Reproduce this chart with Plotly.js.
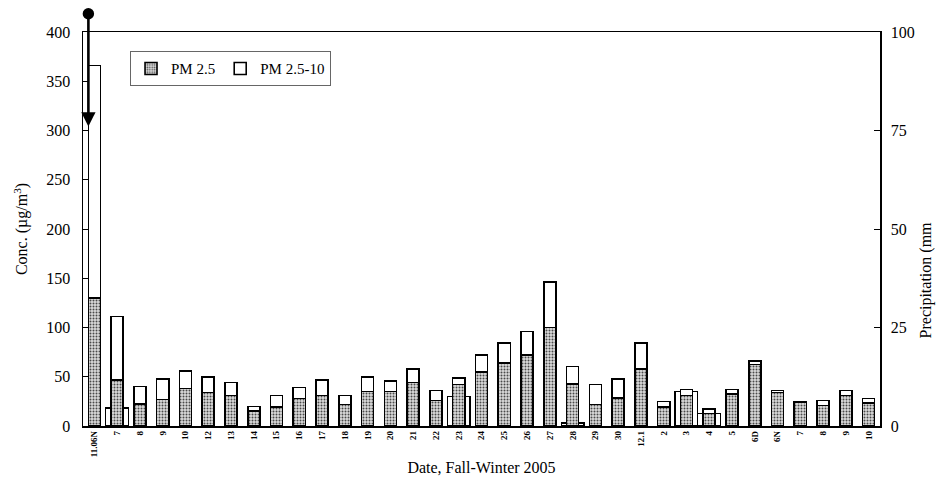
<!DOCTYPE html>
<html>
<head>
<meta charset="utf-8">
<script src="https://cdn.plot.ly/plotly-3.0.1.min.js"></script>
<style>body{margin:0;background:#fff}#chart{width:945px;height:483px}</style>
</head>
<body>
<div id="chart"></div>
<script>
// Sampling dates (unique ids) and the tick labels shown on the axis
const dates = ['11.06N','11.07','11.08','11.09','11.10','11.12','11.13','11.14','11.15','11.16','11.17','11.18','11.19','11.20','11.21','11.22','11.23','11.24','11.25','11.26','11.27','11.28','11.29','11.30','12.01','12.02','12.03','12.04','12.05','12.06D','12.06N','12.07','12.08','12.09','12.10'];
const tickLabels = ['11.06N','7','8','9','10','12','13','14','15','16','17','18','19','20','21','22','23','24','25','26','27','28','29','30','12.1','2','3','4','5','6D','6N','7','8','9','10'];
// PM2.5 concentration (µg/m3)
const pm25 = [130,47,22.5,27,38,34,31,15,19.5,28,31,22,35,35,44,26,42,55,64,72,100,42.5,22,28.5,58,19.5,31,12.5,32.5,62.5,34,24,21,31,23.5];
// Coarse fraction PM2.5-10 (µg/m3)
const pmCoarse = [236,64,17.5,21,18,16,13,5,11.5,11,16,9,14.5,10.5,14,10,6.5,17,20,24,46.5,18,20,19.5,26,5.5,6,4.5,4.5,3.5,2,0.5,5,5,4.5];
// Precipitation (mm)
const precip = [null,4.6,null,null,null,null,null,null,null,null,null,null,null,null,null,null,7.5,null,null,null,null,0.8,null,null,null,null,8.75,3.2,null,null,null,null,null,null,null];
// Off-scale precipitation marker for the first sample (mm)
const offScaleTop = 105, offScaleTip = 76;

const serif = 'Liberation Serif, Times New Roman, serif';

const traces = [
  {type:'bar', x:dates, y:precip, yaxis:'y', width:1.0, showlegend:false, name:'Precipitation',
   marker:{color:'#ffffff', line:{color:'#000', width:1.3}}},
  {type:'bar', x:dates, y:pm25, yaxis:'y2', width:0.53, name:'PM 2.5',
   marker:{color:'#c0c0c0', line:{color:'#000', width:1.6},
     pattern:{shape:'.', bgcolor:'#dcdcdc', fgcolor:'#4a4a4a', size:3, solidity:0.35}}},
  {type:'bar', x:dates, y:pmCoarse, yaxis:'y2', width:0.53, name:'PM 2.5-10',
   marker:{color:'#ffffff', line:{color:'#000', width:1.6}}}
];

const layout = {
  width:945, height:483,
  margin:{l:83, r:65, t:32, b:57},
  paper_bgcolor:'#fff', plot_bgcolor:'#fff',
  barmode:'stack', bargap:0,
  font:{family:serif, color:'#000', size:14},
  showlegend:true,
  legend:{orientation:'h', x:0.059, y:0.951, xanchor:'left', yanchor:'top',
    bordercolor:'#666', borderwidth:1, bgcolor:'#fff',
    font:{family:serif, size:15}, itemwidth:30, traceorder:'normal'},
  xaxis:{type:'category', tickvals:dates, ticktext:tickLabels, tickangle:-90,
    range:[-0.5, dates.length-0.5], showline:true, linecolor:'#000', linewidth:1.5, mirror:true,
    ticks:'', showgrid:false, zeroline:false,
    tickfont:{family:serif, size:9, weight:700},
    title:{text:'Date, Fall-Winter 2005', font:{family:serif, size:16}, standoff:5}},
  yaxis:{side:'right', range:[0,100], tickvals:[0,25,50,75,100], showgrid:false, zeroline:false,
    showline:true, linecolor:'#000', linewidth:1.5, ticks:'inside', ticklen:6, tickcolor:'#000',
    ticklabelstandoff:6, tickfont:{family:serif, size:16}},
  yaxis2:{overlaying:'y', side:'left', range:[0,400], dtick:50, showgrid:false, zeroline:false,
    showline:true, linecolor:'#000', linewidth:1.5, ticks:'inside', ticklen:5, tickcolor:'#000',
    ticklabelstandoff:8, tickfont:{family:serif, size:16},
    title:{text:'Conc. (µg/m<sup>3</sup>)', font:{family:serif, size:16}, standoff:14}},
  annotations:[
    {xref:'x', yref:'y', x:dates[0], y:offScaleTip, axref:'pixel', ayref:'y', ax:0, ay:offScaleTop,
     text:'', showarrow:true, arrowhead:2, arrowsize:1.1, arrowwidth:2.6, arrowcolor:'#000',
     arrowside:'end+start', startarrowhead:6, startarrowsize:1.1, xshift:-6, standoff:0, startstandoff:0},
    {xref:'paper', yref:'paper', x:1.058, y:0.37, text:'Precipitation (mm', textangle:-90,
     showarrow:false, font:{family:serif, size:16}, xanchor:'center', yanchor:'middle'}
  ]
};

Plotly.newPlot('chart', traces, layout, {displayModeBar:false, staticPlot:true});
</script>
</body>
</html>
